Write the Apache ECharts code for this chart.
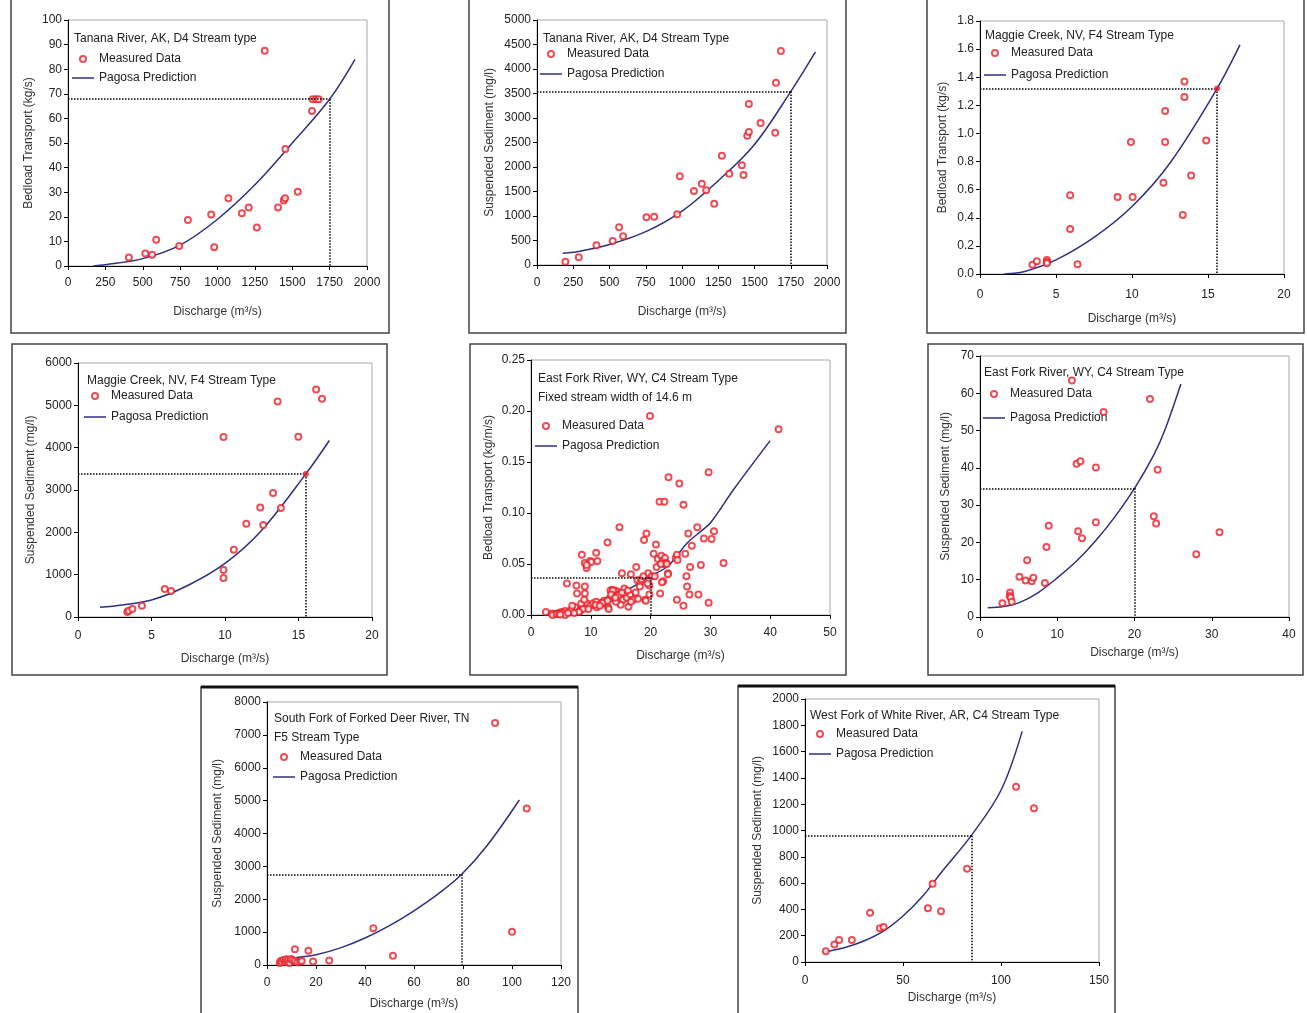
<!DOCTYPE html>
<html>
<head>
<meta charset="utf-8">
<script src="https://cdn.jsdelivr.net/npm/echarts@6/dist/echarts.min.js"></script>
<style>
  html, body { margin: 0; padding: 0; background: #fff; }
  #chart { width: 1307px; height: 1013px; }
</style>
</head>
<body>
<div id="chart"></div>
<script>
// ---- data: [discharge, value] ----
const tananaBedMeasured = [[407,3.5],[517,5.1],[563,4.6],[590,10.7],[744,8.1],[802,18.7],[958,20.9],[978,7.6],[1073,27.5],[1163,21.4],[1209,23.8],[1263,15.7],[1316,87.5],[1405,23.8],[1443,26.6],[1452,27.5],[1454,47.6],[1537,30.2],[1632,63],[1637,67.8],[1659,67.8],[1677,67.8]]
const tananaBedPagosa = [[170,0],[250,0.5],[500,3],[750,8.5],[1000,19],[1250,33],[1500,50],[1750,67.8],[1920,84]]
const tananaBedGuide = [1750, 67.8]

const tananaSusMeasured = [[196,68],[288,156],[410,401],[522,490],[566,769],[594,585],[755,973],[808,986],[967,1034],[985,1810],[1082,1510],[1137,1660],[1167,1524],[1222,1252],[1275,2231],[1326,1864],[1413,2034],[1424,1837],[1450,2639],[1461,2714],[1461,3286],[1542,2898],[1643,2701],[1648,3721],[1682,4367]]
const tananaSusPagosa = [[177,238],[250,258],[500,420],[750,680],[1000,1100],[1250,1720],[1500,2460],[1750,3540],[1920,4350]]
const tananaSusGuide = [1750, 3540]

const maggieBedMeasured = [[3.45,0.066],[3.74,0.09],[4.4,0.10],[4.4,0.085],[4.4,0.076],[5.93,0.56],[5.93,0.32],[6.42,0.069],[9.05,0.547],[9.93,0.94],[10.04,0.547],[12.07,0.65],[12.18,1.16],[12.18,0.94],[13.34,0.42],[13.45,1.37],[13.45,1.26],[13.89,0.70],[14.88,0.95]]
const maggieBedPagosa = [[1.6,0],[3,0.02],[5,0.1],[7.5,0.26],[10,0.48],[12.5,0.79],[15.6,1.32],[17.1,1.63]]
const maggieBedGuide = [15.6, 1.32]

const maggieSusMeasured = [[3.35,120],[3.45,145],[3.7,189],[4.35,267],[5.9,660],[6.33,613],[9.9,1108],[9.9,919],[9.9,4250],[10.6,1587],[11.45,2200],[12.4,2584],[12.6,2176],[13.27,2930],[13.58,5090],[13.8,2577],[14.99,4258],[16.2,5373],[16.6,5153]]
const maggieSusPagosa = [[1.5,228],[3,285],[5,400],[7.5,750],[10,1265],[12.5,2050],[15.5,3380],[17.1,4170]]
const maggieSusGuide = [15.5, 3380]

const eastBedMeasured = [[19.9,0.195],[41.4,0.182],[29.7,0.140],[23.0,0.135],[24.8,0.129],[21.5,0.111],[22.3,0.111],[25.5,0.108],
  [14.8,0.086],[19.3,0.080],[12.8,0.071],[18.9,0.0735],[20.9,0.069],[8.5,0.059],[10.9,0.061],[9.0,0.051],[9.9,0.053],[10.1,0.052],[9.3,0.046],[11.1,0.053],
  [6.0,0.031],[7.6,0.029],[7.7,0.021],[9.0,0.021],[15.2,0.041],[16.7,0.040],[17.6,0.047],[17.8,0.034],[18.3,0.032],[18.2,0.028],[19.6,0.041],[20.5,0.060],[21.0,0.047],
  [21.2,0.055],[21.8,0.058],[22.0,0.053],[22.4,0.056],[22.6,0.051],[22.2,0.050],[21.7,0.050],[22.1,0.033],[21.6,0.021],[22.9,0.041],[19.1,0.015],[19.8,0.020],[20.2,0.038],
  [24.4,0.015],[25.5,0.009],[26.1,0.028],[26.5,0.020],[26.0,0.038],[28.0,0.020],[29.7,0.012],[26.6,0.047],[28.4,0.049],[25.8,0.060],[24.2,0.056],[24.4,0.059],[26.9,0.068],
  [26.3,0.080],[27.8,0.086],[28.9,0.075],[30.2,0.0745],[30.6,0.082],[32.2,0.051],
  [2.5,0.003],[3.5,0.0015],[4.0,0.001],[4.6,0.002],[5.1,0.003],[5.7,0.004],[6.5,0.003],[7.0,0.0055],[7.4,0.0075],[8.2,0.004],[8.7,0.009],[9.3,0.0115],[9.9,0.009],[10.4,0.0115],
  [11.0,0.0075],[11.7,0.0115],[12.2,0.014],[12.5,0.011],[12.9,0.0075],[13.1,0.016],[13.5,0.0245],[14.0,0.024],[14.4,0.023],[14.8,0.021],[15.4,0.015],[16.0,0.017],[16.6,0.020],
  [17.1,0.015],[17.9,0.016],[3.6,0.0],[4.3,0.001],[4.7,0.001],[5.4,0.002],[5.7,0.0],[6.7,0.005],[6.9,0.009],[8.4,0.011],[8.7,0.006],[8.9,0.015],[9.0,0.028],[9.3,0.049],
  [10.9,0.013],[12.0,0.012],[12.8,0.014],[13.0,0.006],[13.3,0.024],[13.7,0.024],[15.0,0.010],[15.6,0.026],[16.3,0.008],[16.7,0.013],[19.2,0.014],[19.8,0.029],[20.7,0.038],
  [21.9,0.032],[22.7,0.050],[22.9,0.040],[24.5,0.054],[13.8,0.018],[14.2,0.013],[14.6,0.019],[13.4,0.020],[14.1,0.017],[15.2,0.022],[16.2,0.024],[17.5,0.022],[18.5,0.035],
  [18.8,0.038],[19.5,0.031],[10.8,0.010],[11.5,0.009],[9.6,0.006],[8.0,0.003],[6.2,0.002],[7.2,0.002],[4.9,0.0005]]
const eastBedPagosa = [[15.3,0.0216],[20,0.038],[22.9,0.048],[26.2,0.071],[28.8,0.084],[30.1,0.091],[34,0.124],[40,0.171]]
const eastBedGuide = [20, 0.037]

const eastSusMeasured = [[2.9,3.7],[3.9,6.6],[3.85,5.6],[3.97,5.2],[4.1,4.1],[5.1,10.8],[5.9,9.8],[6.1,15.2],[6.7,9.6],[6.9,10.5],[8.4,9.1],[8.6,18.8],[8.9,24.5],[11.9,63.4],[12.5,41.1],[12.7,23.0],[13.0,41.8],[13.2,21.1],[15.0,40.1],[15.0,25.4],[16.0,55.0],[22.0,58.5],[22.5,27.0],[22.8,25.1],[23.0,39.5],[28.0,16.8],[31.0,22.7]]
const eastSusPagosa = [[1,2.5],[3,2.8],[5,3.8],[7.5,6.5],[10,10.5],[12.5,15],[15,20.5],[17.5,27],[20,34.5],[22.5,43.5],[24,50.5],[26,62.5]]
const eastSusGuide = [20, 34.5]

const forkedDeerMeasured = [[5.2,60],[5.6,122],[6.0,82],[6.7,152],[7.3,100],[7.8,173],[8.2,90],[8.7,143],[9.2,60],[9.7,182],[10.5,152],[11.4,122],[12.4,82],[13.5,100],[14.2,122],[11.4,477],[16.9,437],[18.8,110],[25.4,140],[43.4,1117],[51.4,284],[93.1,7360],[100,1015],[106,4761]]
const forkedDeerPagosa = [[12,230],[20,310],[30,520],[40,820],[50,1200],[60,1650],[70,2170],[79.5,2760],[90,3650],[103,5020]]
const forkedDeerGuide = [79.5, 2760]

const whiteRiverMeasured = [[10.6,81],[15.0,134],[17.4,167],[23.9,167],[33.2,375],[38.2,256],[40.1,266],[62.7,408],[65.1,595],[69.4,385],[82.7,709],[107.7,1332],[116.8,1170]]
const whiteRiverPagosa = [[9.2,76],[20,109],[30,160],[40,235],[50,350],[60,500],[70,690],[85,965],[100,1306],[110.8,1754]]
const whiteRiverGuide = [85, 960]

const xName = 'Discharge (m³/s)'
const font = 'Liberation Sans, Arial, sans-serif'

const panels = [
  { title: 'Tanana River, AK, D4 Stream type', yName: 'Bedload Transport (kg/s)',
    measured: tananaBedMeasured, pagosa: tananaBedPagosa, guide: tananaBedGuide,
    x: [0, 2000, 250], y: [0, 100, 10], dec: 0,
    grid: [68, 20, 299, 246], frame: [11, -2, 378, 335], titlePos: [74, 29], legendPos: [72, 53],
    yGap: 33, xGap: 40, xLab: 11, legendGap: 7 },
  { title: 'Tanana River, AK, D4 Stream Type', yName: 'Suspended Sediment (mg/l)',
    measured: tananaSusMeasured, pagosa: tananaSusPagosa, guide: tananaSusGuide,
    x: [0, 2000, 250], y: [0, 5000, 500], dec: 0,
    grid: [537, 20, 290, 245], frame: [469, -2, 377, 335], titlePos: [543, 29], legendPos: [540, 48],
    yGap: 41, xGap: 41, xLab: 12, legendGap: 8 },
  { title: 'Maggie Creek, NV, F4 Stream Type', yName: 'Bedload Transport (kg/s)',
    measured: maggieBedMeasured, pagosa: maggieBedPagosa, guide: maggieBedGuide, fill: true,
    x: [0, 20, 5], y: [0, 1.8, 0.2], dec: 1,
    grid: [980, 21, 304, 253], frame: [927, -2, 377, 335], titlePos: [985, 26], legendPos: [984, 47],
    yGap: 31, xGap: 39, xLab: 15, legendGap: 10 },
  { title: 'Maggie Creek, NV, F4 Stream Type', yName: 'Suspended Sediment (mg/l)',
    measured: maggieSusMeasured, pagosa: maggieSusPagosa, guide: maggieSusGuide, fill: true,
    x: [0, 20, 5], y: [0, 6000, 1000], dec: 0,
    grid: [78, 363, 294, 254], frame: [12, 344, 375, 331], titlePos: [87, 371], legendPos: [84, 390],
    yGap: 41, xGap: 36, xLab: 13, legendGap: 9 },
  { title: 'East Fork River, WY, C4 Stream Type\nFixed stream width of 14.6 m', yName: 'Bedload Transport (kg/m/s)',
    measured: eastBedMeasured, pagosa: eastBedPagosa, guide: eastBedGuide,
    x: [0, 50, 10], y: [0, 0.25, 0.05], dec: 2,
    grid: [531, 360, 299, 255], frame: [470, 344, 376, 331], titlePos: [538, 369], legendPos: [535, 420],
    yGap: 36, xGap: 35, xLab: 12, legendGap: 8 },
  { title: 'East Fork River, WY, C4 Stream Type', yName: 'Suspended Sediment (mg/l)',
    measured: eastSusMeasured, pagosa: eastSusPagosa, guide: eastSusGuide,
    x: [0, 40, 10], y: [0, 70, 10], dec: 0,
    grid: [980, 356, 309, 261], frame: [928, 344, 375, 331], titlePos: [984, 363], legendPos: [983, 388],
    yGap: 28, xGap: 30, xLab: 12, legendGap: 12 },
  { title: 'South Fork of Forked Deer River, TN\nF5 Stream Type', yName: 'Suspended Sediment (mg/l)',
    measured: forkedDeerMeasured, pagosa: forkedDeerPagosa, guide: forkedDeerGuide,
    x: [0, 120, 20], y: [0, 8000, 1000], dec: 0,
    grid: [267, 702, 294, 263], frame: [201, 687, 377, 340], titlePos: [274, 709], legendPos: [273, 751],
    yGap: 43, xGap: 33, xLab: 12, legendGap: 8, thickTop: true },
  { title: 'West Fork of White River, AR, C4 Stream Type', yName: 'Suspended Sediment (mg/l)',
    measured: whiteRiverMeasured, pagosa: whiteRiverPagosa, guide: whiteRiverGuide,
    x: [0, 150, 50], y: [0, 2000, 200], dec: 0,
    grid: [805, 699, 294, 263], frame: [738, 686, 377, 340], titlePos: [810, 706], legendPos: [809, 728],
    yGap: 41, xGap: 30, xLab: 13, legendGap: 8, thickTop: true }
]

const myChart = echarts.init(document.getElementById('chart'), null, { renderer: 'canvas' })

const option = {
  animation: false,
  backgroundColor: '#fff',
  textStyle: { fontFamily: font },
  title: [], legend: [], grid: [], xAxis: [], yAxis: [], series: [], graphic: []
}

const axisBase = {
  type: 'value',
  nameLocation: 'middle',
  nameTextStyle: { fontSize: 12, color: '#333', fontFamily: font },
  axisLine: { show: true, onZero: false, lineStyle: { color: '#000', width: 1 } },
  axisTick: { show: true, length: 4, lineStyle: { color: '#000' } },
  splitLine: { show: false },
  axisLabel: { fontSize: 12, color: '#222', fontFamily: font, showMinLabel: true, showMaxLabel: true }
}

panels.forEach((p, i) => {
  option.graphic.push({
    type: 'rect', z: -10,
    shape: { x: p.frame[0], y: p.frame[1], width: p.frame[2], height: p.frame[3] },
    style: { fill: 'none', stroke: '#444', lineWidth: 1.5 }
  })
  if (p.thickTop) {
    // the lower panels have a heavier top edge
    option.graphic.push({
      type: 'line', z: -9,
      shape: { x1: p.frame[0], y1: p.frame[1], x2: p.frame[0] + p.frame[2], y2: p.frame[1] },
      style: { stroke: '#111', lineWidth: 3 }
    })
  }
  option.grid.push({
    left: p.grid[0], top: p.grid[1], width: p.grid[2], height: p.grid[3],
    show: true, borderColor: '#a8a8a8', borderWidth: 1, backgroundColor: 'transparent'
  })
  option.title.push({
    text: p.title, left: p.titlePos[0], top: p.titlePos[1], padding: 0,
    textStyle: { fontSize: 12, fontWeight: 'normal', color: '#222', fontFamily: font, lineHeight: 19 }
  })
  option.legend.push({
    left: p.legendPos[0], top: p.legendPos[1], orient: 'vertical', padding: 0,
    itemGap: p.legendGap, itemWidth: 22, itemHeight: 6,
    selectedMode: false,
    textStyle: { fontSize: 12, color: '#222', fontFamily: font },
    data: [
      { name: 'Measured Data', icon: 'emptyCircle', itemStyle: { borderWidth: 1.5 } },
      { name: 'Pagosa Prediction', icon: 'path://M0,0H22V1.5H0Z' }
    ]
  })
  option.xAxis.push(Object.assign({}, axisBase, {
    gridIndex: i, min: p.x[0], max: p.x[1], interval: p.x[2],
    name: xName, nameGap: p.xGap,
    axisLabel: Object.assign({}, axisBase.axisLabel, { margin: p.xLab, formatter: v => String(v) })
  }))
  option.yAxis.push(Object.assign({}, axisBase, {
    gridIndex: i, min: p.y[0], max: p.y[1], interval: p.y[2],
    name: p.yName, nameGap: p.yGap,
    axisLabel: Object.assign({}, axisBase.axisLabel, {
      margin: 6,
      formatter: v => v.toFixed(p.dec)
    })
  }))
  const g = p.guide
  option.series.push({
    name: 'Pagosa Prediction', type: 'line', xAxisIndex: i, yAxisIndex: i,
    data: p.pagosa, smooth: 0.35, symbol: 'none', z: 3,
    lineStyle: { color: '#2e2e82', width: 1.5 },
    itemStyle: { color: '#2e2e82' },
    markLine: {
      silent: true, symbol: 'none', label: { show: false }, animation: false,
      lineStyle: { type: 'dotted', color: '#000', width: 1.5 },
      data: [
        [{ coord: [p.x[0], g[1]] }, { coord: [g[0], g[1]] }],
        [{ coord: [g[0], g[1]] }, { coord: [g[0], p.y[0]] }]
      ]
    }
  })
  option.series.push({
    name: 'Measured Data', type: 'scatter', xAxisIndex: i, yAxisIndex: i,
    data: p.measured, symbol: 'emptyCircle', symbolSize: 6, z: 4,
    itemStyle: { color: '#e8212a', borderWidth: 1.5 }
  })
  if (p.fill) {
    option.series.push({
      name: 'guide point', type: 'scatter', xAxisIndex: i, yAxisIndex: i,
      data: [g], symbol: 'circle', symbolSize: 6, z: 5,
      itemStyle: { color: '#e8212a' }
    })
  }
})

myChart.setOption(option)
</script>
</body>
</html>
